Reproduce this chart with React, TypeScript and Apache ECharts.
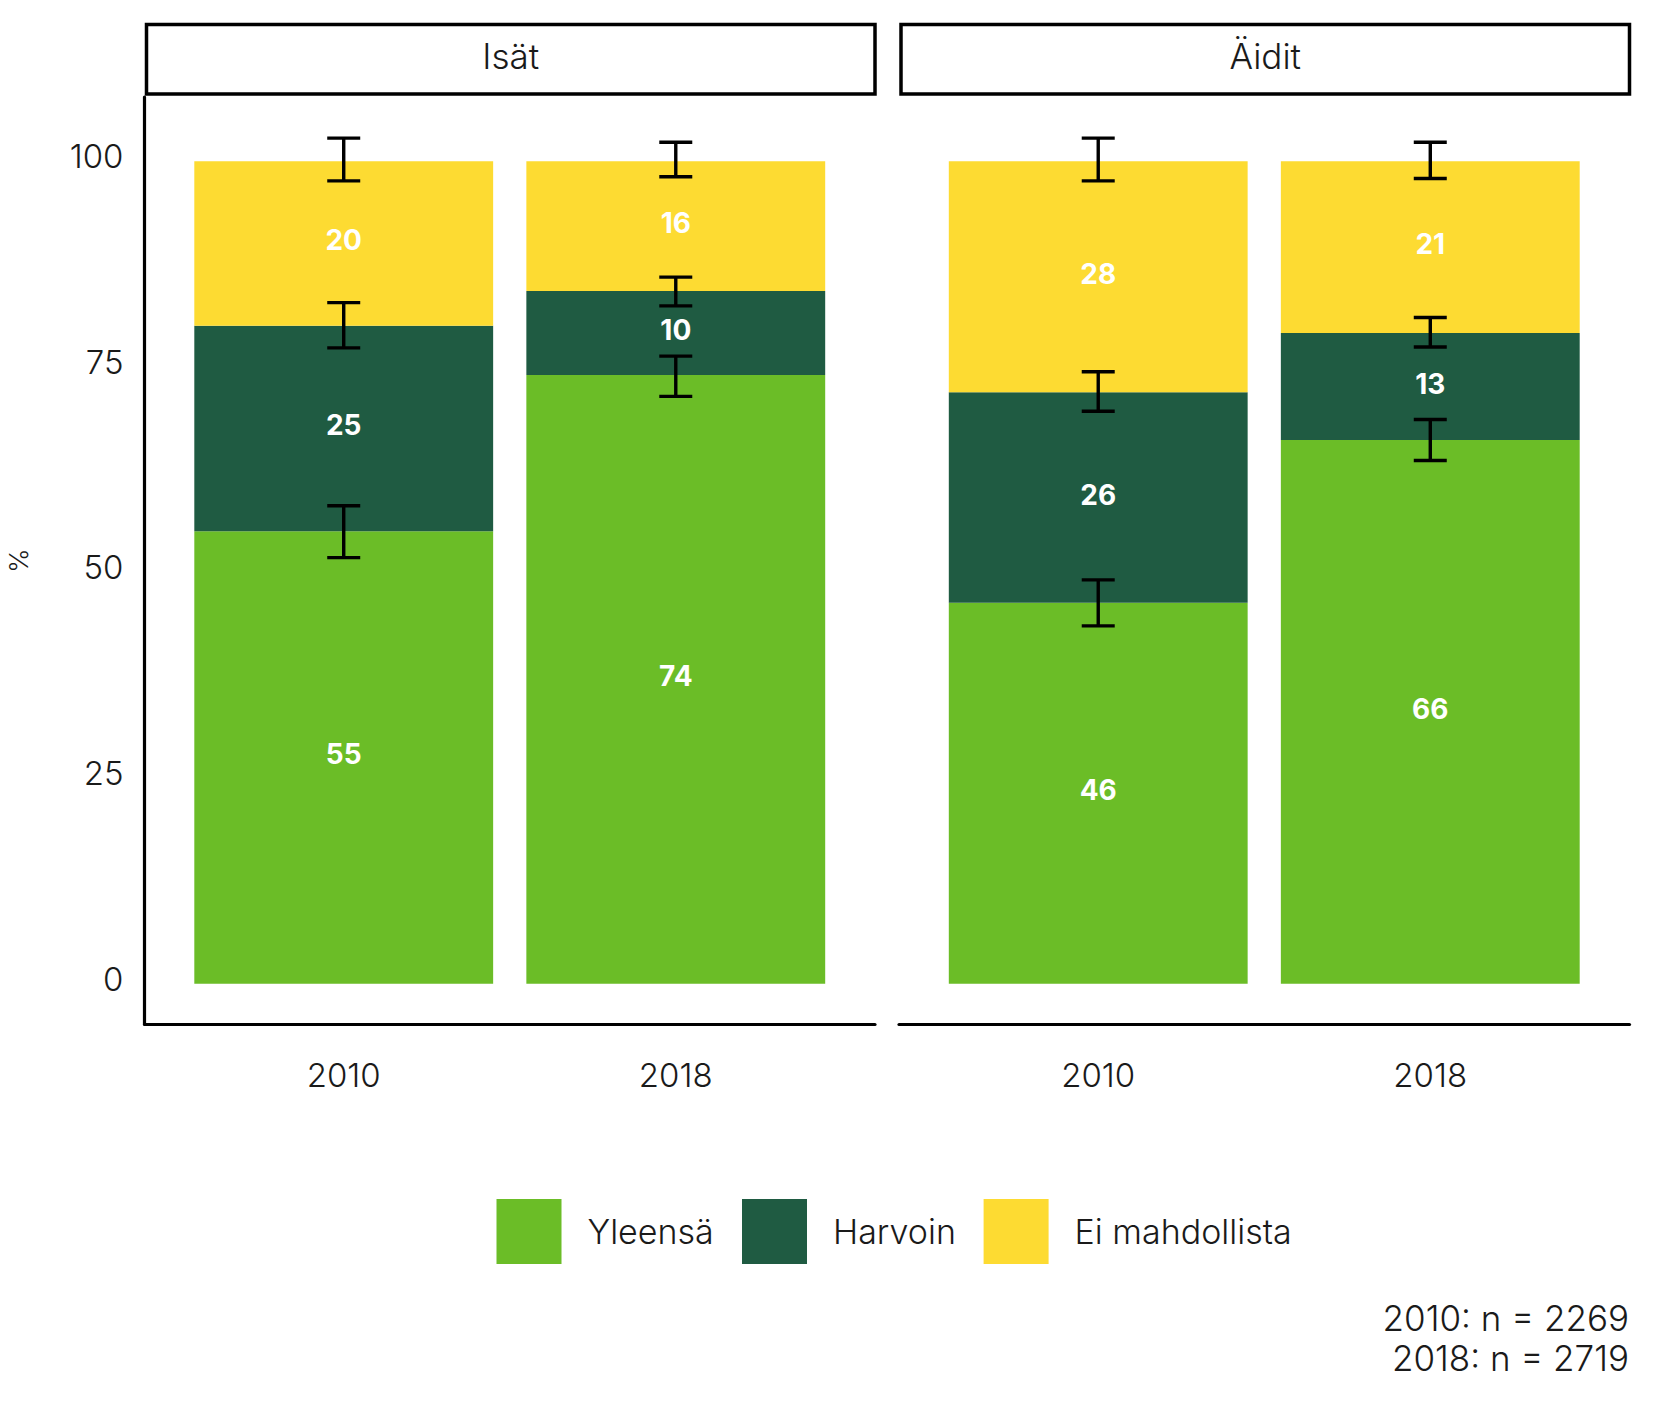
import React, { useEffect, useRef } from "react";
import * as echarts from "echarts";

const panels = ["Isät", "Äidit"];
const years = ["2010", "2018"];
const categories = ["Yleensä", "Harvoin", "Ei mahdollista"];
const colors = ["#6bbd27", "#1f5b42", "#fddb32"];
const yTicks = [0, 25, 50, 75, 100];

// values per panel, per category, per year (2010, 2018)
const isatYleensa = [55.0, 74.0];
const isatHarvoin = [25.0, 10.2];
const isatEiMahdollista = [20.0, 15.8];
const aiditYleensa = [46.3, 66.1];
const aiditHarvoin = [25.6, 13.0];
const aiditEiMahdollista = [28.1, 20.9];

// error bars: cumulative [low, high] per year, per category
const isatErr2010 = [[51.8, 58.1], [77.3, 82.8], [97.6, 102.8]];
const isatErr2018 = [[71.4, 76.3], [82.4, 85.9], [98.1, 102.3]];
const aiditErr2010 = [[43.5, 49.1], [69.6, 74.4], [97.6, 102.8]];
const aiditErr2018 = [[63.6, 68.6], [77.4, 81.0], [97.9, 102.3]];

const captionLines = ["2010: n = 2269", "2018: n = 2719"];

const FONT = "Inter";

export default function App() {
  const ref = useRef<HTMLDivElement>(null);
  useEffect(() => {
    document.body.style.margin = "0";
    const chart = echarts.init(ref.current!, null, { renderer: "svg" });
    const panelValues = [
      [isatYleensa, isatHarvoin, isatEiMahdollista],
      [aiditYleensa, aiditHarvoin, aiditEiMahdollista],
    ];
    const panelErr = [
      [isatErr2010, isatErr2018],
      [aiditErr2010, aiditErr2018],
    ];
    const gridLeft = [144.5, 899];
    const gridWidth = 730.5;
    const unit = gridWidth / 2.2;
    const gridTop = 97;
    const gridHeight = 927;
    const barW = 0.9 * unit;
    const yMin = -4.9;
    const yMax = 107.8;

    // outer grids (0,1): full panels with axis lines; inner grids (2,3): bar area
    const grids: any[] = [
      ...gridLeft.map((l) => ({ left: l, top: gridTop, width: gridWidth, height: gridHeight })),
      ...gridLeft.map((l) => ({ left: l + 0.1 * unit, top: gridTop, width: 2 * unit, height: gridHeight })),
    ];
    const xAxes: any[] = [
      ...gridLeft.map((_, i) => ({
        type: "value",
        gridIndex: i,
        min: 0,
        max: 1,
        axisLine: { show: true, onZero: false, lineStyle: { color: "#000", width: 3.2 } },
        axisTick: { show: false },
        splitLine: { show: false },
        axisLabel: { show: false },
      })),
      ...gridLeft.map((_, i) => ({
        type: "category",
        gridIndex: 2 + i,
        data: years,
        axisLine: { show: false },
        axisTick: { show: false },
        axisLabel: {
          fontFamily: FONT,
          fontWeight: 300,
          fontSize: 33,
          color: "#1a1a1a",
          margin: 34,
        },
      })),
    ];
    const yAxes: any[] = [
      ...gridLeft.map((_, i) => ({
        type: "value",
        gridIndex: i,
        min: yMin,
        max: yMax,
        name: i === 0 ? "%" : "",
        nameLocation: "middle",
        nameGap: 113,
        nameRotate: 90,
        nameTextStyle: { fontFamily: FONT, fontWeight: 300, fontSize: 26, color: "#1a1a1a" },
        axisLine: { show: i === 0, onZero: false, lineStyle: { color: "#000", width: 3.2 } },
        axisTick: { show: false },
        splitLine: { show: false },
        axisLabel: {
          show: i === 0,
          customValues: yTicks,
          formatter: (v: number) => "{t|" + v + "}",
          rich: {
            t: {
              fontFamily: FONT,
              fontWeight: 300,
              fontSize: 33,
              color: "#1a1a1a",
              padding: [0, 0, 10, 0],
            },
          },
          margin: 21,
        },
      })),
      ...gridLeft.map((_, i) => ({
        type: "value",
        gridIndex: 2 + i,
        min: yMin,
        max: yMax,
        axisLine: { show: false },
        axisTick: { show: false },
        splitLine: { show: false },
        axisLabel: { show: false },
      })),
    ];

    const series: any[] = [];
    panelValues.forEach((vals, p) => {
      vals.forEach((arr, c) => {
        series.push({
          type: "bar",
          name: categories[c],
          xAxisIndex: 2 + p,
          yAxisIndex: 2 + p,
          stack: "s" + p,
          barWidth: barW,
          itemStyle: { color: colors[c] },
          label: {
            show: true,
            position: "inside",
            offset: [0, -3],
            formatter: (d: any) => String(Math.round(d.value)),
            color: "#fff",
            fontFamily: FONT,
            fontWeight: 700,
            fontSize: 28,
          },
          data: arr,
        });
      });
      const errData: number[][] = [];
      panelErr[p].forEach((yearErr, k) => {
        yearErr.forEach(([lo, hi]) => errData.push([k, lo, hi]));
      });
      series.push({
        type: "custom",
        name: "err" + p,
        xAxisIndex: 2 + p,
        yAxisIndex: 2 + p,
        z: 10,
        clip: false,
        encode: { x: 0, y: [1, 2] },
        data: errData,
        renderItem: (params: any, api: any) => {
          const x = api.value(0);
          const lo = api.coord([x, api.value(1)]);
          const hi = api.coord([x, api.value(2)]);
          const hw = 16.5;
          const st = { stroke: "#000", lineWidth: 3.4 };
          return {
            type: "group",
            children: [
              { type: "line", shape: { x1: lo[0], y1: lo[1], x2: hi[0], y2: hi[1] }, style: st },
              { type: "line", shape: { x1: lo[0] - hw, y1: lo[1], x2: lo[0] + hw, y2: lo[1] }, style: st },
              { type: "line", shape: { x1: hi[0] - hw, y1: hi[1], x2: hi[0] + hw, y2: hi[1] }, style: st },
            ],
          };
        },
      });
    });

    const legendLefts = [496.5, 742, 983.6];
    const legends = categories.map((c, i) => ({
      data: [c],
      left: legendLefts[i],
      top: 1199,
      padding: 0,
      icon: "rect",
      itemWidth: 65,
      itemHeight: 65,
      selectedMode: false,
      textStyle: {
        fontFamily: FONT,
        fontWeight: 300,
        fontSize: 34,
        color: "#1a1a1a",
        padding: [0, 0, 0, 21],
      },
    }));

    const graphic: any[] = [];
    panels.forEach((name, i) => {
      const x0 = gridLeft[i] + 2;
      const w = gridWidth - 2;
      graphic.push({
        type: "rect",
        shape: { x: x0, y: 24.5, width: w, height: 69.5 },
        style: { fill: "#fff", stroke: "#000", lineWidth: 3.5 },
      });
      graphic.push({
        type: "text",
        x: x0 + w / 2,
        y: 56,
        style: {
          text: name,
          fontFamily: FONT,
          fontWeight: 300,
          fontSize: 35,
          fill: "#1a1a1a",
          align: "center",
          verticalAlign: "middle",
        },
      });
    });
    captionLines.forEach((t, i) => {
      graphic.push({
        type: "text",
        x: 1629,
        y: 1318 + i * 40,
        style: {
          text: t,
          fontFamily: FONT,
          fontWeight: 300,
          fontSize: 35,
          fill: "#1a1a1a",
          align: "right",
          verticalAlign: "middle",
        },
      });
    });

    chart.setOption({
      animation: false,
      backgroundColor: "#fff",
      grid: grids,
      xAxis: xAxes,
      yAxis: yAxes,
      legend: legends,
      series,
      graphic,
    });
    return () => chart.dispose();
  }, []);
  return <div ref={ref} style={{ width: 1653, height: 1417 }} />;
}
